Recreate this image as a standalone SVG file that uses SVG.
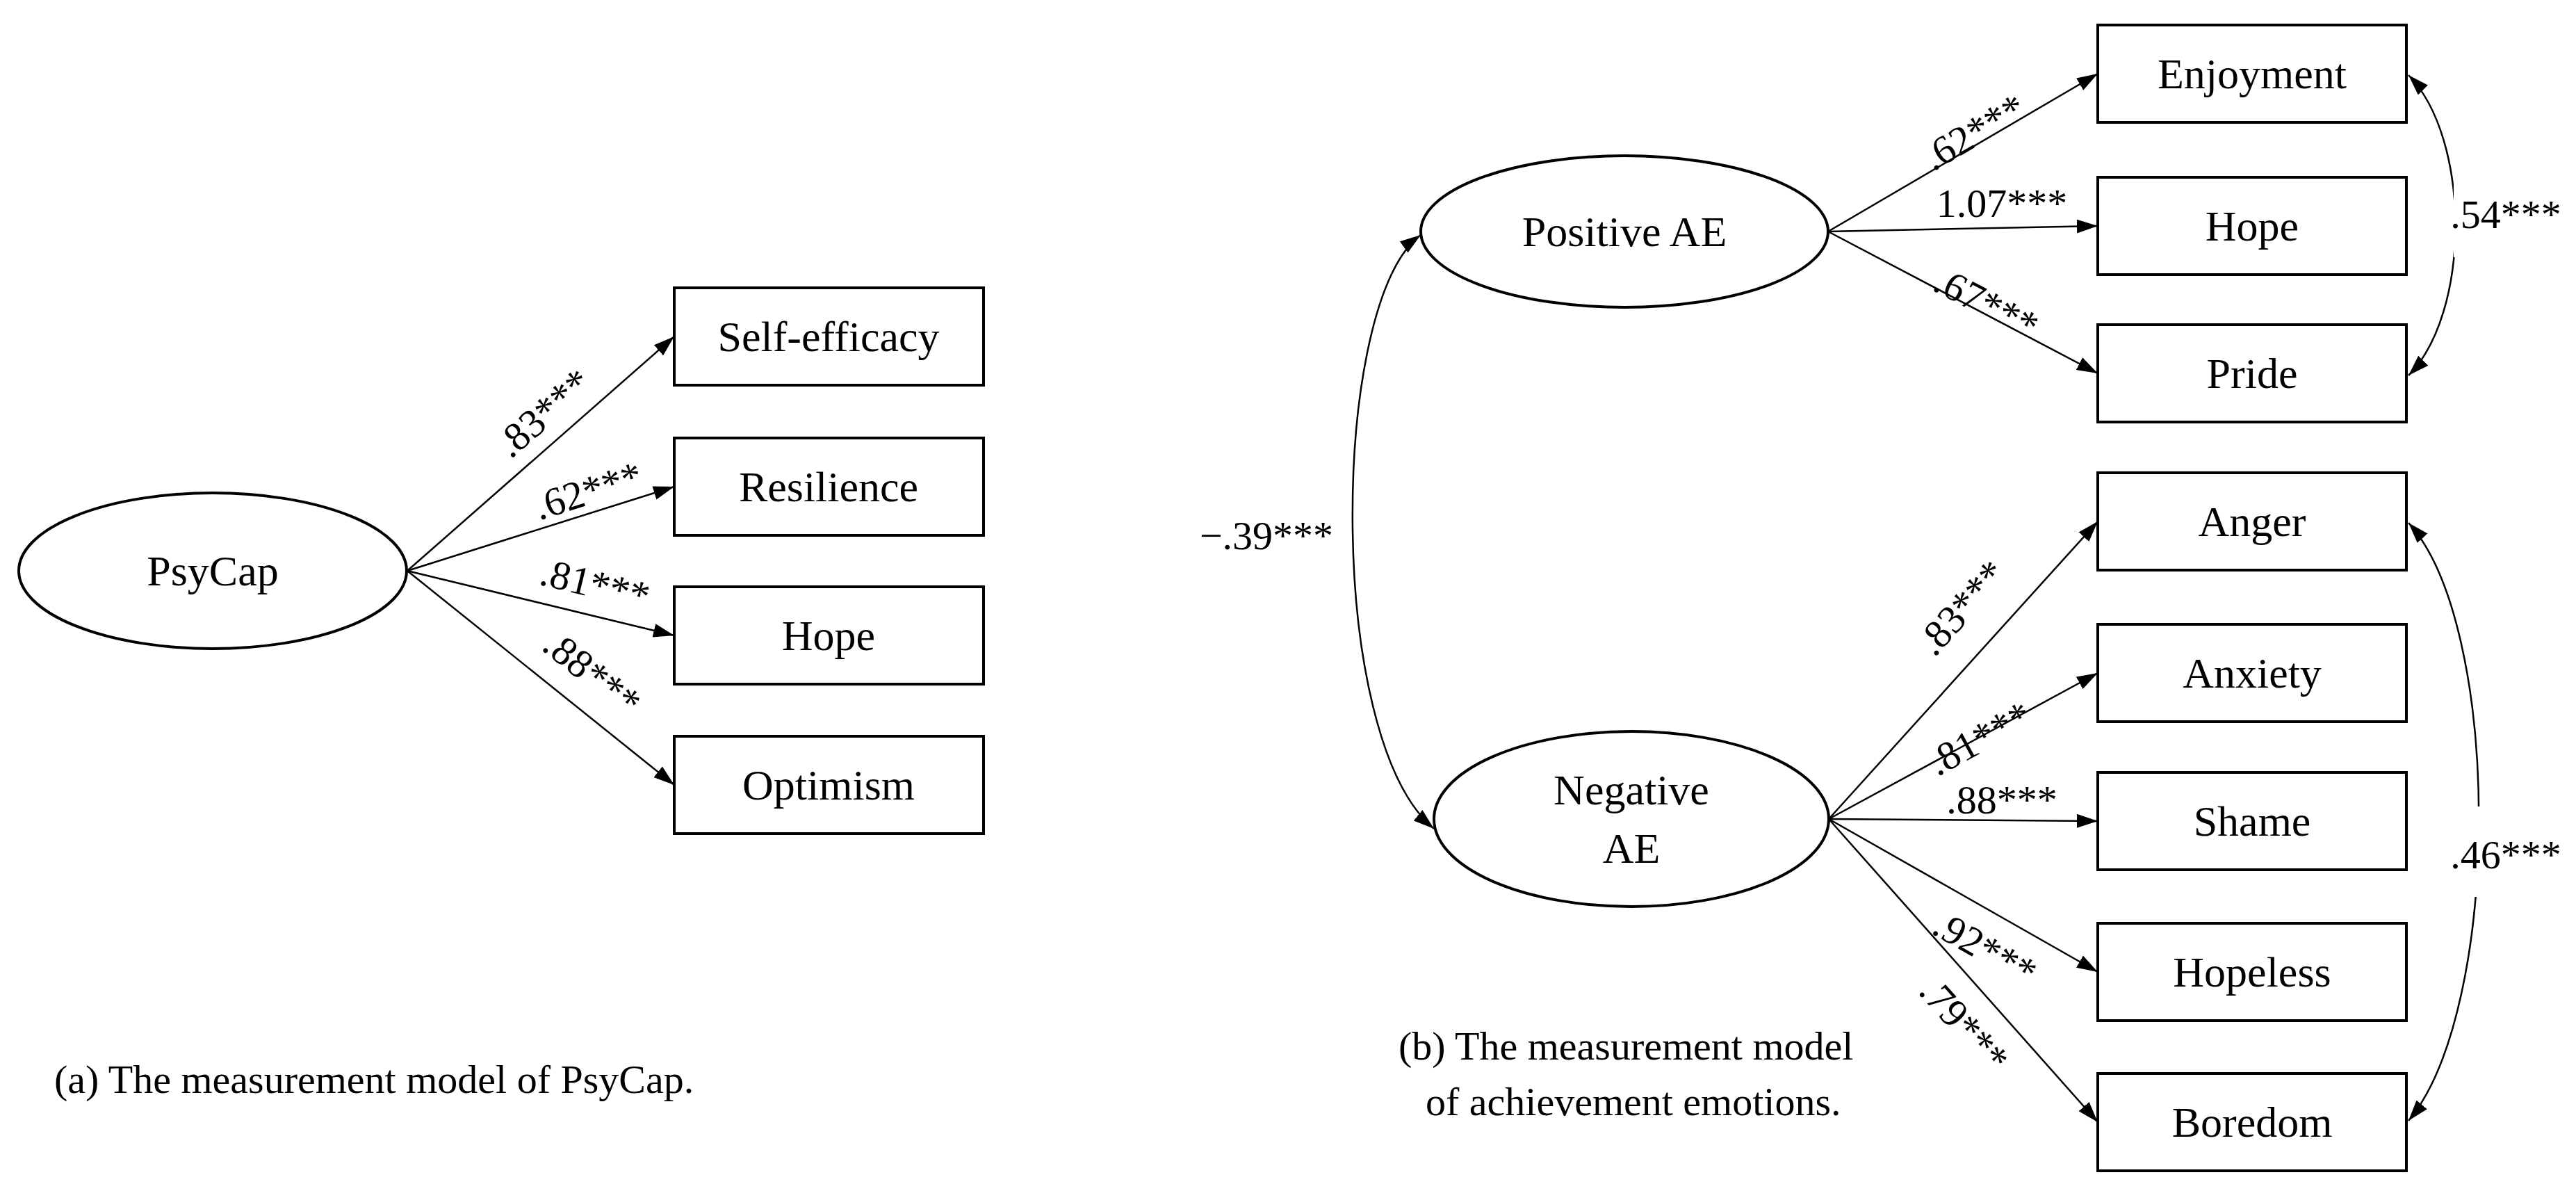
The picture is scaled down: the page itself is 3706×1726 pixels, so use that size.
<svg xmlns="http://www.w3.org/2000/svg" width="3706" height="1726" viewBox="0 0 3706 1726">
<style>
text{font-family:"Liberation Serif","DejaVu Serif",serif;fill:#000}
.n{font-size:62px;text-anchor:middle;dominant-baseline:central}
.l{font-size:58px;text-anchor:middle;dominant-baseline:central}
.c{font-size:58px}
rect.b{fill:#fff;stroke:#000;stroke-width:4}
ellipse{fill:#fff;stroke:#000;stroke-width:4}
.e path,.e line{stroke:#000;stroke-width:2.5;fill:none}
.a{marker-end:url(#ah)}
.d{marker-start:url(#ah);marker-end:url(#ah)}
.bg{fill:#fff;stroke:none}
</style>
<defs>
<marker id="ah" viewBox="0 0 30 20" refX="30" refY="10" markerWidth="30" markerHeight="20" markerUnits="userSpaceOnUse" orient="auto-start-reverse">
<path d="M0,0 L30,10 L0,20 z" fill="#000"/>
</marker>
</defs>
<rect width="3706" height="1726" fill="#fff"/>
<g id="connectors" class="e">
<line class="a" x1="586" y1="821" x2="970" y2="484"/>
<line class="a" x1="586" y1="821" x2="970" y2="700"/>
<line class="a" x1="586" y1="821" x2="970" y2="914"/>
<line class="a" x1="586" y1="821" x2="970" y2="1129"/>
<line class="a" x1="2630" y1="333" x2="3018" y2="106"/>
<line class="a" x1="2630" y1="333" x2="3018" y2="325"/>
<line class="a" x1="2630" y1="333" x2="3018" y2="537"/>
<line class="a" x1="2631" y1="1178" x2="3018" y2="750"/>
<line class="a" x1="2631" y1="1178" x2="3018" y2="968"/>
<line class="a" x1="2631" y1="1178" x2="3018" y2="1181"/>
<line class="a" x1="2631" y1="1178" x2="3018" y2="1398"/>
<line class="a" x1="2631" y1="1178" x2="3018" y2="1614"/>
<path class="d" d="M2044,338 C1915,430 1905,1060 2063,1192"/>
<path class="d" d="M3465,108 C3555,200 3555,450 3465,540"/>
<path class="d" d="M3465,752 C3600,900 3600,1450 3465,1612"/>
</g>
<g id="labels">
<rect class="bg" x="1740" y="730" width="165" height="80"/>
<text class="l" x="1822" y="770">−.39***</text>
<rect class="bg" x="3530" y="240" width="150" height="130"/>
<text class="l" x="3605" y="308">.54***</text>
<rect class="bg" x="3530" y="1160" width="150" height="130"/>
<text class="l" x="3605" y="1229">.46***</text>
<text class="l" transform="translate(782,594) rotate(-41)">.83***</text>
<text class="l" transform="translate(846,706) rotate(-17.5)">.62***</text>
<text class="l" transform="translate(856,840) rotate(13.6)">.81***</text>
<text class="l" transform="translate(852,968) rotate(38.7)">.88***</text>
<text class="l" transform="translate(2840,190) rotate(-30.3)">.62***</text>
<text class="l" x="2880" y="292">1.07***</text>
<text class="l" transform="translate(2858,436) rotate(27.7)">.67***</text>
<text class="l" transform="translate(2822,874) rotate(-47.9)">.83***</text>
<text class="l" transform="translate(2848,1062) rotate(-28.5)">.81***</text>
<text class="l" x="2880" y="1150">.88***</text>
<text class="l" transform="translate(2856,1364) rotate(29.6)">.92***</text>
<text class="l" transform="translate(2826,1474) rotate(48.4)">.79***</text>
</g>
<g id="psycap"><ellipse cx="306" cy="821" rx="279" ry="112"/><text class="n" x="306" y="821">PsyCap</text></g>
<g id="selfeff"><rect class="b" x="970" y="414" width="445" height="140"/><text class="n" x="1192" y="484">Self-efficacy</text></g>
<g id="resil"><rect class="b" x="970" y="630" width="445" height="140"/><text class="n" x="1192" y="700">Resilience</text></g>
<g id="hope1"><rect class="b" x="970" y="844" width="445" height="140"/><text class="n" x="1192" y="914">Hope</text></g>
<g id="optim"><rect class="b" x="970" y="1059" width="445" height="140"/><text class="n" x="1192" y="1129">Optimism</text></g>
<g id="posae"><ellipse cx="2337" cy="333" rx="293" ry="109"/><text class="n" x="2337" y="333">Positive AE</text></g>
<g id="negae"><ellipse cx="2347" cy="1178" rx="284" ry="126"/><text class="n" x="2347" y="1136">Negative</text><text class="n" x="2347" y="1220">AE</text></g>
<g id="enjoy"><rect class="b" x="3018" y="36" width="444" height="140"/><text class="n" x="3240" y="106">Enjoyment</text></g>
<g id="hope2"><rect class="b" x="3018" y="255" width="444" height="140"/><text class="n" x="3240" y="325">Hope</text></g>
<g id="pride"><rect class="b" x="3018" y="467" width="444" height="140"/><text class="n" x="3240" y="537">Pride</text></g>
<g id="anger"><rect class="b" x="3018" y="680" width="444" height="140"/><text class="n" x="3240" y="750">Anger</text></g>
<g id="anxiety"><rect class="b" x="3018" y="898" width="444" height="140"/><text class="n" x="3240" y="968">Anxiety</text></g>
<g id="shame"><rect class="b" x="3018" y="1111" width="444" height="140"/><text class="n" x="3240" y="1181">Shame</text></g>
<g id="hopeless"><rect class="b" x="3018" y="1328" width="444" height="140"/><text class="n" x="3240" y="1398">Hopeless</text></g>
<g id="boredom"><rect class="b" x="3018" y="1544" width="444" height="140"/><text class="n" x="3240" y="1614">Boredom</text></g>
<g id="captions">
<text class="c" x="78" y="1572">(a) The measurement model of PsyCap.</text>
<text class="c" x="2012" y="1524">(b) The measurement model</text>
<text class="c" x="2051" y="1604">of achievement emotions.</text>
</g>
</svg>
